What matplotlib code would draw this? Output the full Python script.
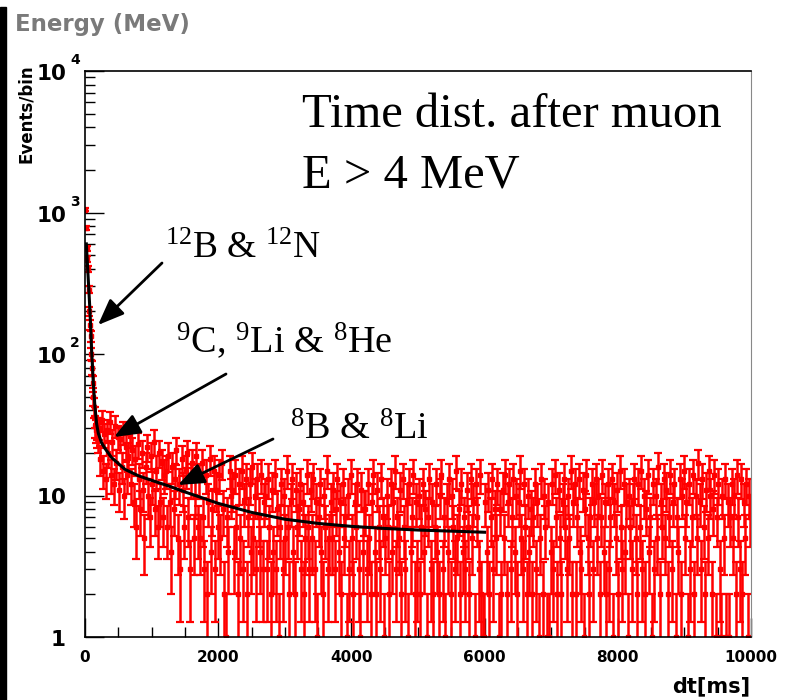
import numpy as np
import matplotlib
matplotlib.use("Agg")
import matplotlib.pyplot as plt
from matplotlib.ticker import MultipleLocator, LogLocator, NullFormatter
from matplotlib.patches import Rectangle

plt.rcParams['mathtext.fontset'] = 'custom'
plt.rcParams['mathtext.rm'] = 'Liberation Serif'
plt.rcParams['mathtext.it'] = 'Liberation Serif:italic'
plt.rcParams['mathtext.bf'] = 'Liberation Serif:bold'

# first 200 ms, 10 ms bins
early_width = 10
early_counts = [1050, 780, 560, 470, 400, 285, 200, 160, 133, 100,
                80, 62, 50, 42, 36, 31, 29, 27, 30, 25]

# 200 .. 10000 ms, 20 ms bins
bin_width = 20
counts = [
    30, 18, 34, 15, 27, 13, 29, 20, 33, 14, 24, 12, 31, 17, 26, 11, 25, 16, 28, 10, 22, 14, 19, 27, 12,
    21, 9, 18, 6, 23, 13, 8, 20, 11, 5, 16, 22, 10, 7, 19, 12, 24, 8, 15, 6, 20, 9, 17, 7, 14,
    15, 6, 19, 9, 4, 16, 8, 13, 21, 5, 12, 3, 18, 11, 6, 15, 20, 7, 3, 13, 17, 5, 10, 19, 6,
    13, 5, 17, 7, 3, 14, 2, 9, 18, 4, 8, 15, 3, 11, 6, 14, 5, 17, 8, 2, 1, 7, 4, 15, 10,
    11, 4, 14, 6, 2, 12, 5, 15, 3, 9, 13, 2, 7, 12, 4, 16, 5, 10, 3, 13, 7, 4, 14, 3, 9,
    10, 3, 13, 6, 2, 11, 4, 14, 3, 8, 1, 6, 12, 3, 10, 5, 15, 6, 2, 9, 13, 4, 2, 11, 6,
    8, 12, 3, 9, 2, 5, 14, 6, 3, 11, 5, 13, 3, 9, 1, 7, 12, 4, 2, 10, 6, 15, 3, 5, 9,
    5, 11, 3, 8, 13, 4, 9, 2, 12, 5, 7, 1, 10, 3, 14, 5, 2, 9, 6, 12, 3, 1, 11, 4, 8,
    8, 3, 12, 5, 2, 9, 14, 4, 2, 11, 6, 3, 13, 7, 1, 5, 10, 6, 2, 12, 4, 9, 15, 3, 7,
    5, 11, 2, 13, 6, 3, 9, 1, 12, 4, 7, 14, 2, 9, 3, 10, 2, 6, 12, 4, 8, 1, 7, 13, 3,
    9, 2, 6, 12, 4, 2, 10, 14, 3, 7, 1, 9, 4, 13, 2, 10, 6, 3, 15, 5, 8, 2, 12, 4, 7,
    3, 11, 6, 2, 13, 5, 9, 1, 12, 7, 3, 14, 2, 1, 1, 9, 4, 11, 2, 7, 13, 3, 8, 5, 12,
    1, 8, 2, 11, 5, 14, 2, 9, 12, 3, 7, 13, 4, 10, 2, 9, 15, 5, 3, 12, 6, 2, 10, 4, 8,
    2, 7, 12, 3, 9, 1, 5, 13, 2, 10, 6, 1, 9, 1, 4, 12, 3, 14, 7, 2, 11, 5, 2, 9, 13,
    6, 3, 10, 5, 15, 2, 9, 12, 2, 7, 13, 4, 3, 11, 1, 8, 14, 5, 2, 7, 12, 3, 9, 13, 5,
    10, 2, 7, 14, 4, 9, 2, 12, 3, 7, 13, 1, 9, 5, 11, 2, 15, 6, 3, 12, 4, 9, 1, 10, 6,
    3, 9, 13, 5, 2, 12, 6, 15, 3, 10, 2, 8, 14, 4, 7, 1, 12, 3, 10, 5, 16, 2, 9, 6, 13,
    5, 11, 2, 7, 14, 3, 9, 12, 1, 7, 4, 13, 2, 10, 15, 5, 9, 1, 12, 3, 7, 14, 2, 10, 5,
    17, 9, 3, 13, 6, 2, 11, 5, 15, 10, 2, 8, 14, 1, 7, 12, 3, 1, 10, 5, 13, 1, 9, 1, 7,
    12, 5, 10, 2, 14, 7, 3, 13, 2, 9, 5, 12, 1, 10, 7,
]

# fit curve (ms, events/bin)
fit_t = [20, 50, 75, 100, 125, 150, 175, 200, 250, 300, 400, 600, 800, 1000, 1250,
         1500, 2000, 2500, 3000, 3500, 4000, 4500, 5000, 5500, 6000]
fit_v = [600, 330, 200, 105, 62, 42, 32, 27.5, 23.5, 21.5, 18.5, 15.3, 13.8, 12.8, 11.7,
         10.6, 8.8, 7.6, 6.8, 6.35, 6.05, 5.85, 5.7, 5.6, 5.5]

t = np.concatenate([np.arange(len(early_counts)) * early_width + early_width / 2,
                    200 + np.arange(len(counts)) * bin_width + bin_width / 2])
n = np.array(early_counts + counts, dtype=float)
err_hi = np.sqrt(n)
err_lo = n - np.maximum(n - np.sqrt(n), 0.3)

W, H = 794, 700
def px(x, y):
    return (x / W, 1 - y / H)

fig = plt.figure(figsize=(W / 100, H / 100), dpi=100)
ax = fig.add_axes([85 / W, 63 / H, 666 / W, 566 / H])

ax.errorbar(t, n, yerr=[err_lo, err_hi], fmt='s', ms=2.5, color='red', ecolor='red',
            elinewidth=1.8, capsize=2.8, capthick=1.6, zorder=2)
ax.plot(fit_t, fit_v, color='black', lw=2.2, zorder=3)

ax.set_yscale('log')
ax.set_ylim(1, 1e4)
ax.set_xlim(0, 10000)

ax.xaxis.set_major_locator(MultipleLocator(2000))
ax.xaxis.set_minor_locator(MultipleLocator(500))
ax.yaxis.set_minor_locator(LogLocator(base=10, subs=np.arange(2, 10), numticks=20))
ax.yaxis.set_minor_formatter(NullFormatter())
ax.tick_params(which='major', direction='in', length=14, width=1, top=False, right=False,
               labelsize=11, pad=9)
ax.tick_params(which='minor', direction='in', length=7, width=1, top=False, right=False)
ax.tick_params(axis='y', which='both', labelleft=False)
for lab in ax.get_xticklabels():
    lab.set_fontweight('bold')

for s in ['left', 'bottom', 'top']:
    ax.spines[s].set_linewidth(1.2)
ax.spines['right'].set_color('#888888')

# y tick labels ROOT-style: base + raised exponent
for k in range(5):
    base = '1' if k == 0 else '10'
    ax.annotate(base, xy=(0, 10 ** k), xycoords=('axes fraction', 'data'),
                xytext=(-19, -3), textcoords='offset pixels', ha='right', va='center',
                fontsize=15.5, fontweight='bold')
    if k >= 2:
        ax.annotate(str(k), xy=(0, 10 ** k), xycoords=('axes fraction', 'data'),
                    xytext=(-15, 11), textcoords='offset pixels', ha='left', va='center',
                    fontsize=10, fontweight='bold')

fig.text(*px(750, 692), 'dt[ms]', ha='right', va='baseline', fontsize=15, fontweight='bold')
fig.text(*px(26, 64), 'Events/bin', rotation=90, ha='center', va='top', fontsize=12,
         fontweight='bold')
fig.text(*px(15, 31), 'Energy (MeV)', va='baseline', fontsize=16.5, fontweight='bold',
         color='#7a7a7a')
fig.patches.append(Rectangle((0, 0), 6 / W, 693 / H, transform=fig.transFigure,
                             color='black'))

serif = 'Liberation Serif'
fig.text(*px(302, 127), 'Time dist. after muon', fontsize=35, family=serif, va='baseline')
fig.text(*px(302, 187), 'E > 4 MeV', fontsize=35, family=serif, va='baseline')
fig.text(*px(165, 258), r'$^{12}$B & $^{12}$N', fontsize=27, family=serif, va='baseline')
fig.text(*px(176, 353), r'$^{9}$C, $^{9}$Li & $^{8}$He', fontsize=27.5, family=serif,
         va='baseline')
fig.text(*px(290, 440), r'$^{8}$B & $^{8}$Li', fontsize=27.5, family=serif, va='baseline')

arrows = [((162, 263), (98, 325)), ((226, 374), (114, 437)), ((273, 439), (178, 485))]
for tail, tip in arrows:
    ax.annotate('', xy=px(*tip), xycoords='figure fraction', xytext=px(*tail),
                textcoords='figure fraction',
                arrowprops=dict(arrowstyle='-|>,head_length=0.8,head_width=0.32',
                                color='black', lw=2, mutation_scale=20,
                                shrinkA=0, shrinkB=0))

fig.savefig('out.png', dpi=100)
